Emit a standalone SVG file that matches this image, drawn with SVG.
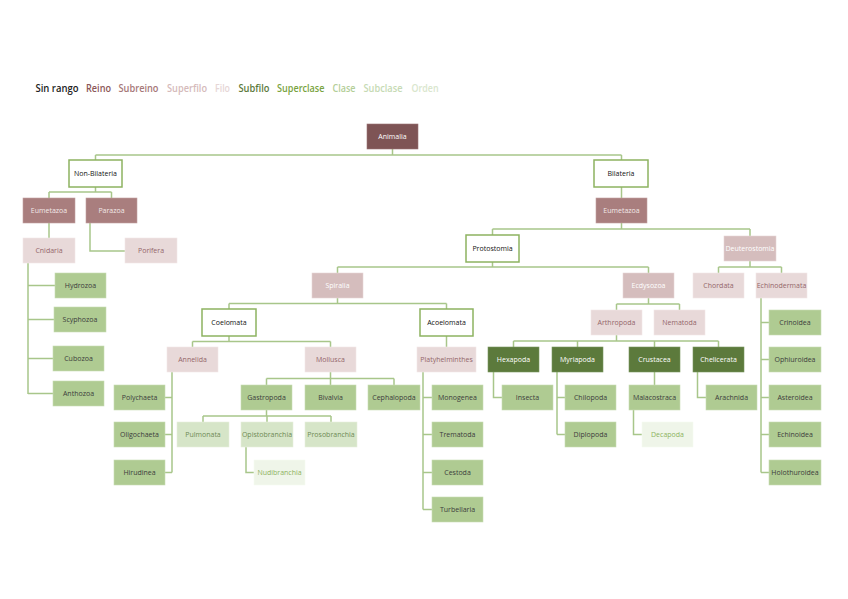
<svg xmlns="http://www.w3.org/2000/svg" width="848" height="599" viewBox="0 0 848 599">
<style>
text{font-family:"Open Sans","Liberation Sans",sans-serif;font-size:7px;text-anchor:middle}
.lg{font-size:10px;font-weight:600;text-anchor:start}
.sr rect{fill:#fff;stroke:#8DB360;stroke-width:1.5}
.sr text{fill:#111}
.reino rect{fill:#7E5455;stroke:#9C7475;stroke-width:0.6}
.reino text{fill:#fff}
.subreino rect{fill:#A97E7E;stroke:#C2A0A0;stroke-width:0.6}
.subreino text{fill:#F3E9E9}
.superfilo rect{fill:#D5BDBD;stroke:#E6D6D6;stroke-width:0.6}
.superfilo text{fill:#fff}
.filo rect{fill:#E8D9D9;stroke:#F2E8E8;stroke-width:0.6}
.filo text{fill:#94666A}
.subfilo rect{fill:#5C7A3C;stroke:#7B9660;stroke-width:0.6}
.subfilo text{fill:#fff}
.clase rect{fill:#AFCB92;stroke:#C8DCB4;stroke-width:0.6}
.clase text{fill:#3C3C3C}
.subclase rect{fill:#D6E5C8;stroke:#E6EFDC;stroke-width:0.6}
.subclase text{fill:#6E8A55}
.orden rect{fill:#EFF5E9;stroke:#F6FAF2;stroke-width:0.6}
.orden text{fill:#8DB360}
#connectors path{fill:none;stroke:#A8C68A;stroke-width:1.5}
</style>
<rect width="848" height="599" fill="#fff"/>
<g id="legend">
<text class="lg" x="35.5" y="92" fill="#222" font-weight="bold" textLength="43" lengthAdjust="spacingAndGlyphs">Sin rango</text>
<text class="lg" x="86" y="92" fill="#8B5758" textLength="25" lengthAdjust="spacingAndGlyphs">Reino</text>
<text class="lg" x="118.5" y="92" fill="#A67878" textLength="40" lengthAdjust="spacingAndGlyphs">Subreino</text>
<text class="lg" x="167" y="92" fill="#D5BABA" textLength="40" lengthAdjust="spacingAndGlyphs">Superfilo</text>
<text class="lg" x="215" y="92" fill="#E6D6D6" textLength="15" lengthAdjust="spacingAndGlyphs">Filo</text>
<text class="lg" x="238.5" y="92" fill="#5C7A3C" textLength="31" lengthAdjust="spacingAndGlyphs">Subfilo</text>
<text class="lg" x="277" y="92" fill="#79A33F" textLength="47.5" lengthAdjust="spacingAndGlyphs">Superclase</text>
<text class="lg" x="332.5" y="92" fill="#B3CE97" textLength="23" lengthAdjust="spacingAndGlyphs">Clase</text>
<text class="lg" x="363.5" y="92" fill="#C6DAB4" textLength="39" lengthAdjust="spacingAndGlyphs">Subclase</text>
<text class="lg" x="411.5" y="92" fill="#D9E6CD" textLength="27" lengthAdjust="spacingAndGlyphs">Orden</text>
</g>
<g id="connectors">
<path d="M392.5,149V155M95.5,155H621.5M95.5,155V160M621.5,155V160"/>
<path d="M95.5,187V192M49,192H111.5M49,192V198M111.5,192V198"/>
<path d="M621.5,187V198"/>
<path d="M49,223V238"/>
<path d="M90,223V251H125"/>
<path d="M28,263V394M28,285.5H55M28,319.5H54M28,358.5H53M28,393.5H53"/>
<path d="M621.5,223V229M492.5,229H750M492.5,229V235M750,229V236"/>
<path d="M492.5,262V267M337.5,267H648.5M337.5,267V273M648.5,267V273"/>
<path d="M750,261V267M718.5,267H781.5M718.5,267V273M781.5,267V273"/>
<path d="M337.5,298V303.5M229,303.5H446.5M229,303.5V309M446.5,303.5V309"/>
<path d="M648.5,298V304M616.5,304H679.5M616.5,304V310M679.5,304V310"/>
<path d="M761,298V472.5M761,322.5H769M761,359.5H769M761,397.5H769M761,434.5H769M761,472.5H769"/>
<path d="M229,336V341.5M192.5,341.5H330.5M192.5,341.5V347M330.5,341.5V347"/>
<path d="M446.5,336V347"/>
<path d="M616.5,335V341M513.5,341H718.5M513.5,341V347M577.5,341V347M654.5,341V347M718.5,341V347"/>
<path d="M172,372V472.5M172,397.5H165M172,434.5H165M172,472.5H165"/>
<path d="M330.5,372V378.5M266.5,378.5H394M266.5,378.5V385M330.5,378.5V385M394,378.5V385"/>
<path d="M423,372V509.5M423,397.5H432M423,434.5H432M423,472.5H432M423,509.5H432"/>
<path d="M493.5,372V397.5H502"/>
<path d="M557,372V434.5M557,397.5H565M557,434.5H565"/>
<path d="M654.5,372V385"/>
<path d="M697.5,372V397.5H706"/>
<path d="M266.5,410V416M203,416H331M203,416V422M267,416V422M331,416V422"/>
<path d="M633.5,410V434.5H642"/>
<path d="M246,447V472.5H254"/>
</g>
<g id="n-animalia" class="reino"><rect x="367" y="124" width="51" height="25"/><text x="392.5" y="139">Animalia</text></g>
<g id="n-nonbilateria" class="sr"><rect x="69" y="160" width="53" height="27"/><text x="95.5" y="176">Non-Bilateria</text></g>
<g id="n-bilateria" class="sr"><rect x="594" y="160" width="54" height="27"/><text x="621" y="176">Bilateria</text></g>
<g id="n-eumetazoa1" class="subreino"><rect x="23" y="198" width="52" height="25"/><text x="49" y="213">Eumetazoa</text></g>
<g id="n-parazoa" class="subreino"><rect x="86" y="198" width="51" height="25"/><text x="111.5" y="213">Parazoa</text></g>
<g id="n-eumetazoa2" class="subreino"><rect x="596" y="198" width="51" height="25"/><text x="621.5" y="213">Eumetazoa</text></g>
<g id="n-cnidaria" class="filo"><rect x="23" y="238" width="52" height="25"/><text x="49" y="253">Cnidaria</text></g>
<g id="n-porifera" class="filo"><rect x="125" y="238" width="52" height="25"/><text x="151" y="253">Porifera</text></g>
<g id="n-hydrozoa" class="clase"><rect x="55" y="273" width="51" height="25"/><text x="80.5" y="288">Hydrozoa</text></g>
<g id="n-scyphozoa" class="clase"><rect x="54" y="307" width="52" height="25"/><text x="80" y="322">Scyphozoa</text></g>
<g id="n-cubozoa" class="clase"><rect x="53" y="346" width="51" height="25"/><text x="78.5" y="361">Cubozoa</text></g>
<g id="n-anthozoa" class="clase"><rect x="53" y="381" width="51" height="25"/><text x="78.5" y="396">Anthozoa</text></g>
<g id="n-protostomia" class="sr"><rect x="466" y="235" width="53" height="27"/><text x="492.5" y="251">Protostomia</text></g>
<g id="n-deuterostomia" class="superfilo"><rect x="724" y="236" width="52" height="25"/><text x="750" y="251">Deuterostomia</text></g>
<g id="n-spiralia" class="superfilo"><rect x="312" y="273" width="51" height="25"/><text x="337.5" y="288">Spiralia</text></g>
<g id="n-ecdysozoa" class="superfilo"><rect x="623" y="273" width="51" height="25"/><text x="648.5" y="288">Ecdysozoa</text></g>
<g id="n-chordata" class="filo"><rect x="693" y="273" width="51" height="25"/><text x="718.5" y="288">Chordata</text></g>
<g id="n-echinodermata" class="filo"><rect x="756" y="273" width="51" height="25"/><text x="781.5" y="288">Echinodermata</text></g>
<g id="n-coelomata" class="sr"><rect x="202" y="309" width="54" height="27"/><text x="229" y="325">Coelomata</text></g>
<g id="n-acoelomata" class="sr"><rect x="420" y="309" width="53" height="27"/><text x="446.5" y="325">Acoelomata</text></g>
<g id="n-arthropoda" class="filo"><rect x="591" y="310" width="51" height="25"/><text x="616.5" y="325">Arthropoda</text></g>
<g id="n-nematoda" class="filo"><rect x="654" y="310" width="51" height="25"/><text x="679.5" y="325">Nematoda</text></g>
<g id="n-crinoidea" class="clase"><rect x="769" y="310" width="52" height="25"/><text x="795" y="325">Crinoidea</text></g>
<g id="n-ophiuroidea" class="clase"><rect x="769" y="347" width="52" height="25"/><text x="795" y="362">Ophiuroidea</text></g>
<g id="n-asteroidea" class="clase"><rect x="769" y="385" width="52" height="25"/><text x="795" y="400">Asteroidea</text></g>
<g id="n-echinoidea" class="clase"><rect x="769" y="422" width="52" height="25"/><text x="795" y="437">Echinoidea</text></g>
<g id="n-holothuroidea" class="clase"><rect x="769" y="460" width="52" height="25"/><text x="795" y="475">Holothuroidea</text></g>
<g id="n-annelida" class="filo"><rect x="167" y="347" width="51" height="25"/><text x="192.5" y="362">Annelida</text></g>
<g id="n-mollusca" class="filo"><rect x="305" y="347" width="51" height="25"/><text x="330.5" y="362">Mollusca</text></g>
<g id="n-platyhelminthes" class="filo"><rect x="417" y="347" width="59" height="25"/><text x="446.5" y="362">Platyhelminthes</text></g>
<g id="n-hexapoda" class="subfilo"><rect x="488" y="347" width="51" height="25"/><text x="513.5" y="362">Hexapoda</text></g>
<g id="n-myriapoda" class="subfilo"><rect x="552" y="347" width="51" height="25"/><text x="577.5" y="362">Myriapoda</text></g>
<g id="n-crustacea" class="subfilo"><rect x="629" y="347" width="51" height="25"/><text x="654.5" y="362">Crustacea</text></g>
<g id="n-chelicerata" class="subfilo"><rect x="693" y="347" width="51" height="25"/><text x="718.5" y="362">Chelicerata</text></g>
<g id="n-polychaeta" class="clase"><rect x="114" y="385" width="51" height="25"/><text x="139.5" y="400">Polychaeta</text></g>
<g id="n-oligochaeta" class="clase"><rect x="114" y="422" width="51" height="25"/><text x="139.5" y="437">Oligochaeta</text></g>
<g id="n-hirudinea" class="clase"><rect x="114" y="460" width="51" height="25"/><text x="139.5" y="475">Hirudinea</text></g>
<g id="n-gastropoda" class="clase"><rect x="241" y="385" width="51" height="25"/><text x="266.5" y="400">Gastropoda</text></g>
<g id="n-bivalvia" class="clase"><rect x="305" y="385" width="51" height="25"/><text x="330.5" y="400">Bivalvia</text></g>
<g id="n-cephalopoda" class="clase"><rect x="368" y="385" width="52" height="25"/><text x="394" y="400">Cephalopoda</text></g>
<g id="n-monogenea" class="clase"><rect x="432" y="385" width="51" height="25"/><text x="457.5" y="400">Monogenea</text></g>
<g id="n-trematoda" class="clase"><rect x="432" y="422" width="51" height="25"/><text x="457.5" y="437">Trematoda</text></g>
<g id="n-cestoda" class="clase"><rect x="432" y="460" width="51" height="25"/><text x="457.5" y="475">Cestoda</text></g>
<g id="n-turbellaria" class="clase"><rect x="432" y="497" width="51" height="25"/><text x="457.5" y="512">Turbellaria</text></g>
<g id="n-insecta" class="clase"><rect x="502" y="385" width="51" height="25"/><text x="527.5" y="400">Insecta</text></g>
<g id="n-chilopoda" class="clase"><rect x="565" y="385" width="51" height="25"/><text x="590.5" y="400">Chilopoda</text></g>
<g id="n-diplopoda" class="clase"><rect x="565" y="422" width="51" height="25"/><text x="590.5" y="437">Diplopoda</text></g>
<g id="n-malacostraca" class="clase"><rect x="629" y="385" width="51" height="25"/><text x="654.5" y="400">Malacostraca</text></g>
<g id="n-arachnida" class="clase"><rect x="706" y="385" width="51" height="25"/><text x="731.5" y="400">Arachnida</text></g>
<g id="n-pulmonata" class="subclase"><rect x="177" y="422" width="52" height="25"/><text x="203" y="437">Pulmonata</text></g>
<g id="n-opistobranchia" class="subclase"><rect x="241" y="422" width="52" height="25"/><text x="267" y="437">Opistobranchia</text></g>
<g id="n-prosobranchia" class="subclase"><rect x="305" y="422" width="52" height="25"/><text x="331" y="437">Prosobranchia</text></g>
<g id="n-nudibranchia" class="orden"><rect x="254" y="460" width="51" height="25"/><text x="279.5" y="475">Nudibranchia</text></g>
<g id="n-decapoda" class="orden"><rect x="642" y="422" width="51" height="25"/><text x="667.5" y="437">Decapoda</text></g>
</svg>
